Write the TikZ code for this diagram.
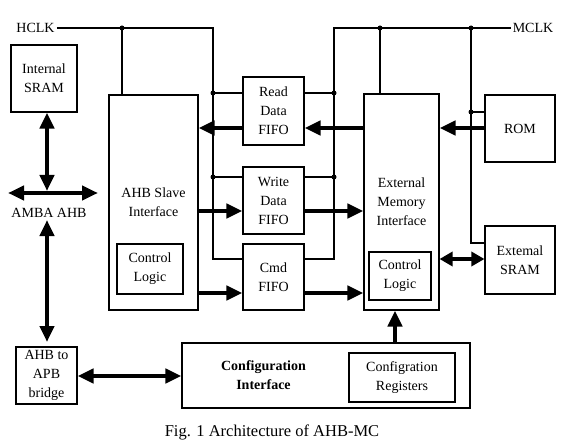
\documentclass[tikz,border=0pt]{standalone}
\usepackage{fontspec}
\setmainfont{Liberation Serif}
\usetikzlibrary{arrows.meta}
\begin{document}
\begin{tikzpicture}[x=1pt,y=-1pt,
 box/.style={draw, line width=1.1pt, inner sep=0pt, align=center, font=\fontsize{14}{19}\selectfont},
 wire/.style={line width=1.1pt},
 big/.style={line width=4.5pt, -{Triangle[length=16pt,width=14pt]}},
 bigb/.style={line width=4.5pt, {Triangle[length=16pt,width=14pt]}-{Triangle[length=16pt,width=14pt]}},
 smallb/.style={line width=4.5pt, {Triangle[length=13pt,width=14pt]}-{Triangle[length=13pt,width=14pt]}},
 dot/.style={circle, fill, inner sep=0pt, minimum size=5pt},
 lbl/.style={font=\fontsize{14}{19}\selectfont, align=center, inner sep=2pt}]
\path[use as bounding box] (0,0) rectangle (566,444);

% boxes
\node[box, minimum width=66pt, minimum height=67pt] (isram) at (44,78.5) {Internal\\SRAM};
\node[box, minimum width=89pt, minimum height=215pt] (ahb) at (153.5,202.5) {AHB Slave\\Interface};
\node[box, minimum width=66pt, minimum height=50pt] (cl1) at (150,269) {Control\\Logic};
\node[box, minimum width=61pt, minimum height=68pt] (rfifo) at (273.5,111) {Read\\Data\\FIFO};
\node[box, minimum width=61pt, minimum height=67pt] (wfifo) at (273.5,200.5) {Write\\Data\\FIFO};
\node[box, minimum width=61pt, minimum height=66pt] (cfifo) at (273.5,277) {Cmd\\FIFO};
\node[box, minimum width=75pt, minimum height=216pt] (emi) at (401.5,202) {External\\Memory\\Interface};
\node[box, minimum width=62pt, minimum height=48pt] (cl2) at (400,276) {Control\\Logic};
\node[box, minimum width=70pt, minimum height=67pt] (rom) at (520,128.5) {ROM};
\node[box, minimum width=70pt, minimum height=68pt] (esram) at (520,260) {Extemal\\SRAM};
\node[box, minimum width=61pt, minimum height=57pt] (bridge) at (46.5,375.5) {AHB to\\APB\\bridge};
\node[box, minimum width=288pt, minimum height=65pt] (cfg) at (326,375.5) {};
\node[lbl, font=\fontsize{14}{19}\selectfont\bfseries] (cfgtxt) at (263.5,375) {Configuration\\Interface};
\node[box, minimum width=106pt, minimum height=49pt] (regs) at (402,377.5) {Configration\\Registers};

% labels
\node[lbl, anchor=center] (hclk) at (35.5,28) {HCLK};
\node[lbl, anchor=center] (mclk) at (533,28) {MCLK};
\node[lbl] (amba) at (49,213) {AMBA AHB};
\node[font=\fontsize{16.5}{20}\selectfont] (cap) at (272,432) {Fig. 1 Architecture of AHB-MC};

% clock coordinates and dots
\coordinate (hc) at (213,28);
\coordinate (hb) at (213,259);
\coordinate (mc) at (334,28);
\coordinate (mb) at (334,259);
\coordinate (me) at (505,28);
\coordinate (eb) at (471,243);
\node[dot] (d1) at (122,28) {};
\node[dot] (d2) at (213,93) {};
\node[dot] (d3) at (213,177) {};
\node[dot] (d4) at (334,93) {};
\node[dot] (d5) at (334,177) {};
\node[dot] (d6) at (380,28) {};
\node[dot] (d7) at (471,28) {};
\node[dot] (d8) at (471,112) {};

% HCLK wires
\draw[wire] (hclk.east) -- (hc) -- (hb) -- (cfifo.west |- hb);
\draw[wire] (d1.center) -- (ahb.north -| d1);
\draw[wire] (d2.center) -- (rfifo.west |- d2);
\draw[wire] (d3.center) -- (wfifo.west |- d3);
% MCLK wires
\draw[wire] (mclk.west |- me) -- (me) -- (mc) -- (mb) -- (cfifo.east |- mb);
\draw[wire] (d4.center) -- (rfifo.east |- d4);
\draw[wire] (d5.center) -- (wfifo.east |- d5);
\draw[wire] (d6.center) -- (emi.north -| d6);
\draw[wire] (d7.center) -- (eb) -- (esram.west |- eb);
\draw[wire] (d8.center) -- (rom.west |- d8);

% row coordinates for thick arrows
\coordinate (rr) at (0,128);
\coordinate (rw) at (0,211);
\coordinate (rc) at (0,293);
\coordinate (ambaL) at (8,193);
\coordinate (ambaR) at (98,193);
\coordinate (ambaV) at (47,191);
\coordinate (ambaD) at (47,220);
\coordinate (bridgeT) at (47,342);
\coordinate (es) at (0,259);
\coordinate (cb) at (0,376);
\coordinate (cfx) at (395,0);

\draw[bigb] (ambaL) -- (ambaR);
\draw[bigb] (isram.south -| ambaV) -- (ambaV);
\draw[bigb] (ambaD) -- (bridgeT);
\draw[big] (rfifo.west |- rr) -- (ahb.east |- rr);
\draw[big] (emi.west |- rr) -- (rfifo.east |- rr);
\draw[big] (rom.west |- rr) -- (emi.east |- rr);
\draw[big] (ahb.east |- rw) -- (wfifo.west |- rw);
\draw[big] (wfifo.east |- rw) -- (emi.west |- rw);
\draw[big] (ahb.east |- rc) -- (cfifo.west |- rc);
\draw[big] (cfifo.east |- rc) -- (emi.west |- rc);
\draw[smallb] (emi.east |- es) -- (esram.west |- es);
\draw[big] (cfg.north -| cfx) -- (emi.south -| cfx);
\draw[bigb] (bridge.east |- cb) -- (cfg.west |- cb);
\end{tikzpicture}
\end{document}
